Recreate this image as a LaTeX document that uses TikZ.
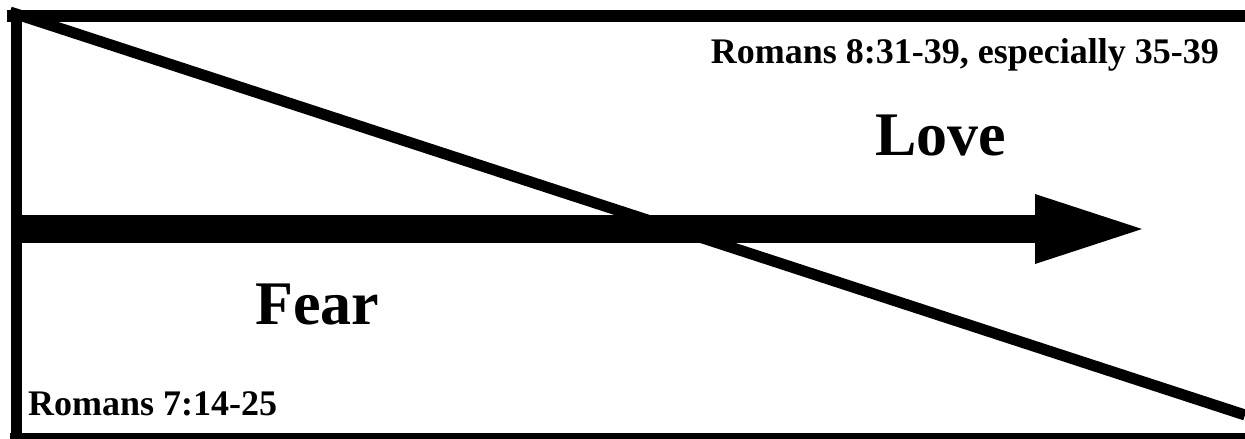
\documentclass[tikz,border=0pt]{standalone}
\usepackage{fontspec}
\setmainfont{Liberation Serif}
\usetikzlibrary{arrows.meta}
\begin{document}
\begin{tikzpicture}[x=1pt, y=-1pt,
    ref/.style={inner sep=0pt, font=\bfseries\fontsize{36}{40}\selectfont},
    big/.style={inner sep=0pt, font=\bfseries\fontsize{62}{70}\selectfont}]
        \useasboundingbox (0,0) rectangle (1245,439);
        \coordinate (tl) at (10,12);
        \coordinate (br) at (1245,415);
        \coordinate (start) at (22,229);
        \coordinate (tip) at (1142,229);
        \draw[line width=12pt] (7,16) -- (1245,16);
        \draw[line width=11pt] (16.5,10) -- (16.5,436);
        \draw[line width=6pt] (10,436) -- (1245,436);
        \draw[line width=11pt] (tl) -- (br);% slope
        \draw[line width=28pt, -{Triangle[length=107pt, width=70pt, line width=0pt]}] (start) -- (tip);
        \node[ref, anchor=base east] (later) at (1219,63) {Romans 8:31-39, especially 35-39};
        \node[big, anchor=base west] (love) at (875,155) {Love};
        \node[big, anchor=base west] (fear) at (255,324) {Fear};
        \node[ref, anchor=base west] (earlier) at (28,415) {Romans 7:14-25};
    \end{tikzpicture}
\end{document}
